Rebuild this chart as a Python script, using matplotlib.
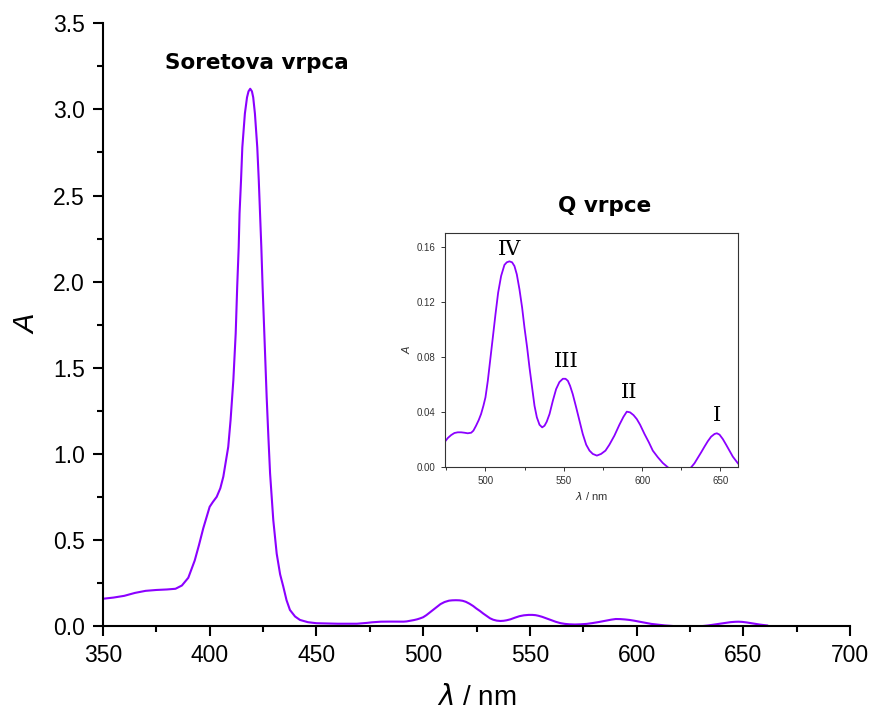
import matplotlib
matplotlib.use("Agg")
import matplotlib.pyplot as plt
from matplotlib.ticker import MultipleLocator

# UV-Vis spectrum (main plot + inset)
wavelength = [350, 355, 360, 365, 370, 375, 380, 384, 387, 390, 393, 395, 397, 399,
              400, 401.5, 403.3, 405, 406.4, 407.5, 408.7, 409.8, 411.1, 412.2, 412.9,
              413.6, 414.0, 414.7, 415.3, 416.5, 417.5, 418.2, 419.0, 419.8, 420.4,
              421.2, 422.3, 423.0, 423.6, 424.2, 424.8, 425.6, 426.7, 427.5, 428.3,
              429.8, 431.4, 433, 434.5, 436, 437.6, 440, 442.3, 446, 450, 460, 469,
              473.8, 476.0, 478.1, 480.2, 482.3, 484.5, 486.6, 488.7, 490.9, 492.3,
              494.0, 495.7, 497.2, 498.7, 500.0, 501.5, 503.0, 504.7, 506.4, 508.1,
              510.0, 512.1, 513.6, 515.3, 517.0, 518.5, 520.0, 521.7, 523.4, 524.9,
              526.6, 528.1, 529.8, 531.3, 532.8, 534.5, 536.2, 537.7, 539.1, 540.9,
              543.0, 545.1, 547.2, 549.4, 551.1, 552.6, 554.0, 555.7, 557.9, 560.0,
              562.1, 564.3, 566.4, 568.5, 571.1, 573.8, 576.6, 579.1, 582.3, 585.5,
              588.1, 590.2, 592.3, 594.5, 596.6, 598.7, 601.5, 604.3, 606.8, 610.0,
              613.2, 616.4, 620, 624, 628, 631.3, 633.4, 635.5, 637.7, 639.8, 641.9,
              644.0, 646.2, 647.7, 649.4, 651.5, 653.6, 655.7, 657.9, 661.1]
absorbance = [0.158, 0.165, 0.175, 0.192, 0.204, 0.209, 0.212, 0.216, 0.235, 0.28,
              0.38, 0.47, 0.567, 0.65, 0.692, 0.72, 0.75, 0.80, 0.867, 0.95, 1.04,
              1.196, 1.428, 1.70, 1.97, 2.20, 2.395, 2.59, 2.78, 2.976, 3.07, 3.105,
              3.12, 3.105, 3.07, 2.976, 2.78, 2.59, 2.395, 2.20, 1.97, 1.70, 1.33,
              1.10, 0.886, 0.615, 0.42, 0.30, 0.228, 0.15, 0.093, 0.055, 0.035, 0.022,
              0.016, 0.013, 0.013,
              0.0181, 0.0213, 0.0234, 0.0249, 0.0254, 0.0254, 0.0251, 0.0247, 0.0251,
              0.0266, 0.0302, 0.0343, 0.0387, 0.0447, 0.0508, 0.0628, 0.0774, 0.0943,
              0.1112, 0.1269, 0.139, 0.147, 0.1489, 0.1496, 0.1489, 0.1462, 0.1402,
              0.1293, 0.116, 0.1015, 0.087, 0.0725, 0.058, 0.0447, 0.0363, 0.0309,
              0.029, 0.0302, 0.0331, 0.0387, 0.0483, 0.0568, 0.0619, 0.0643, 0.0643,
              0.0628, 0.0592, 0.0532, 0.0435, 0.0338, 0.0242, 0.0164, 0.0121, 0.0097,
              0.0085, 0.0097, 0.0121, 0.0164, 0.023, 0.0309, 0.0367, 0.0404, 0.0399,
              0.0379, 0.035, 0.0309, 0.0242, 0.0181, 0.0121, 0.0073, 0.0031, 0.0,
              -0.003, -0.004, -0.003, 0.0, 0.0029, 0.0068, 0.0109, 0.015, 0.0189,
              0.0222, 0.0242, 0.0247, 0.0237, 0.0205, 0.0164, 0.0121, 0.0077, 0.0029]

q_labels = ['IV', 'III', 'II', 'I']
q_label_x = [515.3, 551.5, 591.5, 647.7]
q_label_y = [0.158, 0.077, 0.054, 0.0375]

color = '#8B00FF'
plt.rcParams['font.family'] = ['Liberation Sans', 'DejaVu Sans']
plt.rcParams['mathtext.fontset'] = 'dejavusans'

fig = plt.figure(figsize=(8.72, 7.2), dpi=100)
ax = fig.add_axes([0.118, 0.1306, 0.857, 0.837])
ax.plot(wavelength, absorbance, color=color, linewidth=1.5)
ax.set_xlim(350, 700)
ax.set_ylim(0, 3.5)
ax.xaxis.set_major_locator(MultipleLocator(50))
ax.xaxis.set_minor_locator(MultipleLocator(25))
ax.yaxis.set_major_locator(MultipleLocator(0.5))
ax.yaxis.set_minor_locator(MultipleLocator(0.25))
ax.yaxis.set_major_formatter(plt.FormatStrFormatter('%.1f'))
for s in ['top', 'right']:
    ax.spines[s].set_visible(False)
for s in ['left', 'bottom']:
    ax.spines[s].set_linewidth(1.5)
ax.tick_params(which='major', direction='out', length=7, width=1.5, labelsize=16.5, pad=6)
ax.tick_params(which='minor', direction='out', length=4.3, width=1.5)
ax.set_xlabel(r'$\lambda$ / nm', fontsize=20)
ax.set_ylabel('A', fontsize=21, style='italic')
ax.xaxis.set_label_coords(0.5, -0.098)
ax.yaxis.set_label_coords(-0.082, 0.5)

ax.text(422, 3.27, 'Soretova vrpca', ha='center', va='center', fontsize=15.5,
        fontweight='bold', family='DejaVu Sans')
ax.text(584.8, 2.44, 'Q vrpce', ha='center', va='center', fontsize=15.5,
        fontweight='bold', family='DejaVu Sans')

# inset with the Q bands
axin = fig.add_axes([0.510, 0.351, 0.336, 0.325])
axin.plot(wavelength, absorbance, color=color, linewidth=1.3)
axin.set_xlim(474, 661)
axin.set_ylim(0, 0.17)
axin.xaxis.set_major_locator(MultipleLocator(50))
axin.xaxis.set_minor_locator(MultipleLocator(25))
axin.yaxis.set_major_locator(MultipleLocator(0.04))
axin.yaxis.set_major_formatter(plt.FormatStrFormatter('%.2f'))
for s in axin.spines.values():
    s.set_linewidth(0.8)
    s.set_color('#333333')
axin.tick_params(which='major', direction='out', length=3, width=0.7,
                 labelsize=7, colors='#333333')
axin.tick_params(which='minor', direction='out', length=2, width=0.7, colors='#333333')
axin.set_xlabel(r'$\lambda$ / nm', fontsize=8, color='#333333')
axin.set_ylabel('A', fontsize=8, style='italic', color='#333333')
axin.xaxis.set_label_coords(0.5, -0.095)
axin.yaxis.set_label_coords(-0.11, 0.5)

for lab, x, y in zip(q_labels, q_label_x, q_label_y):
    axin.text(x, y, lab, ha='center', va='center', fontsize=15, family='DejaVu Serif')

fig.savefig('out.png', dpi=100)
